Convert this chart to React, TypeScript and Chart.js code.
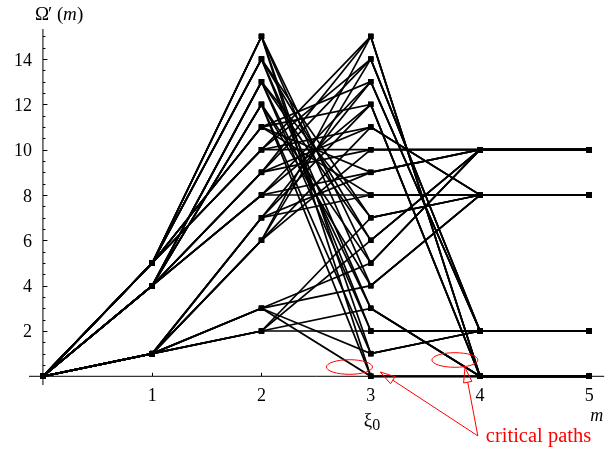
import { useEffect, useRef } from "react";
import { Chart, registerables } from "chart.js";

Chart.register(...registerables);

// Trellis stages m = 0..5 and the state Ω'(m) reached at each stage.
const stages = [0, 1, 2, 3, 4, 5];
const startState = 0;

// Branches between consecutive stages, as [from, to] state pairs.
const edges01: [number, number][] = [
  [0, 1], [0, 4], [0, 5],
];
const edges12: [number, number][] = [
  [1, 2], [1, 3], [1, 6], [1, 7],
  [4, 8], [4, 9], [4, 12], [4, 13],
  [5, 10], [5, 11], [5, 14], [5, 15],
];
const edges23: [number, number][] = [
  [2, 2], [2, 3], [2, 6], [2, 7],
  [3, 0], [3, 1], [3, 4], [3, 5],
  [6, 10], [6, 11], [6, 14], [6, 15],
  [7, 8], [7, 9], [7, 12], [7, 13],
  [8, 8], [8, 9], [8, 12], [8, 13],
  [9, 10], [9, 11], [9, 14], [9, 15],
  [10, 10], [10, 11], [10, 14], [10, 15],
  [11, 8], [11, 9], [11, 12], [11, 13],
  [12, 0], [12, 1], [12, 4], [12, 5],
  [13, 2], [13, 3], [13, 6], [13, 7],
  [14, 2], [14, 3], [14, 6], [14, 7],
  [15, 0], [15, 1], [15, 4], [15, 5],
];
const edges34: [number, number][] = [
  [0, 0], [1, 2], [2, 2], [3, 0],
  [4, 8], [5, 10], [6, 10], [7, 8],
  [8, 8], [9, 10], [10, 10], [11, 8],
  [12, 0], [13, 2], [14, 2], [15, 0],
];
const edges45: [number, number][] = [
  [0, 0], [2, 2], [8, 8], [10, 10],
];

const xTickValues = [1, 2, 3, 4, 5];
const xTickLabels = ["1", "2", "3", "4", "5"];
const yTickValues = [2, 4, 6, 8, 10, 12, 14];
const yTickLabels = ["2", "4", "6", "8", "10", "12", "14"];

const SERIF = "'Liberation Serif', 'Times New Roman', serif";
const RED = "rgb(255, 0, 0)";
const INK = "#000";

// Enumerate every path through the trellis, stage by stage.
function buildPaths(): number[][] {
  const layers = [edges01, edges12, edges23, edges34, edges45];
  let paths: number[][] = [[startState]];
  for (const layer of layers) {
    const next: number[][] = [];
    for (const p of paths) {
      const last = p[p.length - 1];
      for (const [a, b] of layer) if (a === last) next.push([...p, b]);
    }
    paths = next;
  }
  return paths;
}

const axesPlugin = {
  id: "crossedAxes",
  beforeDatasetsDraw(chart: any) {
    const { ctx, chartArea } = chart;
    const xs = chart.scales.x;
    const ys = chart.scales.y;
    const x0 = xs.getPixelForValue(0);
    const y0 = ys.getPixelForValue(0);
    ctx.save();
    ctx.strokeStyle = INK;
    ctx.lineWidth = 1;
    ctx.beginPath();
    ctx.moveTo(chartArea.left, y0);
    ctx.lineTo(chartArea.right + 2, y0);
    ctx.moveTo(x0, chartArea.top);
    ctx.lineTo(x0, chartArea.bottom);
    for (let k = 1; k <= 30; k++) {
      const v = k * 0.5;
      const py = Math.round(ys.getPixelForValue(v)) + 0.5;
      const len = v % 2 === 0 ? 4.5 : 2.5;
      ctx.moveTo(x0, py);
      ctx.lineTo(x0 + len, py);
    }
    for (const v of xTickValues) {
      const px = Math.round(xs.getPixelForValue(v)) + 0.5;
      ctx.moveTo(px, y0);
      ctx.lineTo(px, y0 - 3.5);
    }
    ctx.stroke();

    ctx.fillStyle = INK;
    ctx.font = `18px ${SERIF}`;
    ctx.textAlign = "right";
    ctx.textBaseline = "alphabetic";
    yTickValues.forEach((v, i) => {
      ctx.fillText(yTickLabels[i], x0 - 11, ys.getPixelForValue(v) + 6.5);
    });
    ctx.textAlign = "center";
    xTickValues.forEach((v, i) => {
      ctx.fillText(xTickLabels[i], xs.getPixelForValue(v), y0 + 24.5);
    });

    // axis titles
    ctx.textAlign = "left";
    ctx.font = `19px ${SERIF}`;
    ctx.fillText("Ω", x0 - 8, 19.5);
    ctx.fillText("′", x0 + 5, 19.5);
    ctx.fillText("(", x0 + 14, 19.5);
    ctx.font = `italic 19px ${SERIF}`;
    ctx.fillText("m", x0 + 20, 19.5);
    ctx.font = `19px ${SERIF}`;
    ctx.fillText(")", x0 + 34, 19.5);

    ctx.font = `italic 18px ${SERIF}`;
    ctx.fillText("m", xs.getPixelForValue(5) + 1, y0 + 44.5);

    const xi = xs.getPixelForValue(3);
    ctx.font = `19px ${SERIF}`;
    ctx.fillText("ξ", xi - 7, y0 + 49.5);
    const w = ctx.measureText("ξ").width;
    ctx.font = `16px ${SERIF}`;
    ctx.fillText("0", xi - 7 + w, y0 + 53.5);
    ctx.restore();
  },
  afterDatasetsDraw(chart: any) {
    const { ctx } = chart;
    const xs = chart.scales.x;
    const ys = chart.scales.y;
    const P = (vx: number, vy: number) => [xs.getPixelForValue(vx), ys.getPixelForValue(vy)];
    ctx.save();
    ctx.strokeStyle = RED;
    ctx.fillStyle = RED;
    ctx.lineWidth = 1;

    // rings around the merging branches
    const rings = [
      [2.805, 0.41],
      [3.77, 0.72],
    ];
    for (const [vx, vy] of rings) {
      const [cx, cy] = P(vx, vy);
      ctx.beginPath();
      ctx.ellipse(cx, cy, 23, 7.3, 0, 0, Math.PI * 2);
      ctx.stroke();
    }

    // arrows from the caption to the rings
    const [tx, ty] = P(3.98, -2.63);
    const tips = [
      [3.087, 0.19],
      [3.862, 0.39],
    ];
    for (const [vx, vy] of tips) {
      const [hx, hy] = P(vx, vy);
      const ang = Math.atan2(hy - ty, hx - tx);
      const L = 15;
      const W = 4.2;
      const bx = hx - L * Math.cos(ang);
      const by = hy - L * Math.sin(ang);
      const nx = -Math.sin(ang);
      const ny = Math.cos(ang);
      ctx.beginPath();
      ctx.moveTo(tx, ty);
      ctx.lineTo(bx, by);
      ctx.stroke();
      ctx.beginPath();
      ctx.moveTo(hx, hy);
      ctx.lineTo(bx + nx * W, by + ny * W);
      ctx.lineTo(bx - nx * W, by - ny * W);
      ctx.closePath();
      ctx.stroke();
    }

    ctx.font = `20.5px ${SERIF}`;
    ctx.textAlign = "left";
    ctx.textBaseline = "alphabetic";
    ctx.fillText("critical paths", tx + 8, ty + 6);
    ctx.restore();
  },
};

export default function App() {
  const canvasRef = useRef<HTMLCanvasElement | null>(null);

  useEffect(() => {
    const canvas = canvasRef.current;
    if (!canvas) return;
    const paths = buildPaths();
    const datasets = paths.map((p) => ({
      data: p.map((s, i) => ({ x: stages[i], y: s })),
      borderColor: INK,
      borderWidth: 1.7,
      pointStyle: "rect" as const,
      pointRadius: 3.8,
      pointBorderWidth: 0,
      pointBackgroundColor: INK,
      pointHoverRadius: 3.8,
      tension: 0,
      fill: false,
      clip: false as const,
    }));

    const chart = new Chart(canvas, {
      type: "line",
      data: { datasets },
      options: {
        animation: false,
        responsive: false,
        maintainAspectRatio: false,
        events: [],
        layout: { padding: { left: 29, right: 1, top: 29, bottom: 72 } },
        plugins: { legend: { display: false }, tooltip: { enabled: false } },
        scales: {
          x: { type: "linear", min: -0.1275, max: 5.118, display: false },
          y: { type: "linear", min: -0.384, max: 15.327, display: false },
        },
      },
      plugins: [axesPlugin],
    });
    return () => chart.destroy();
  }, []);

  return (
    <div style={{ position: "fixed", left: 0, top: 0, width: 606, height: 457, background: "#fff" }}>
      <canvas ref={canvasRef} width={606} height={457} style={{ width: 606, height: 457, display: "block" }} />
    </div>
  );
}
